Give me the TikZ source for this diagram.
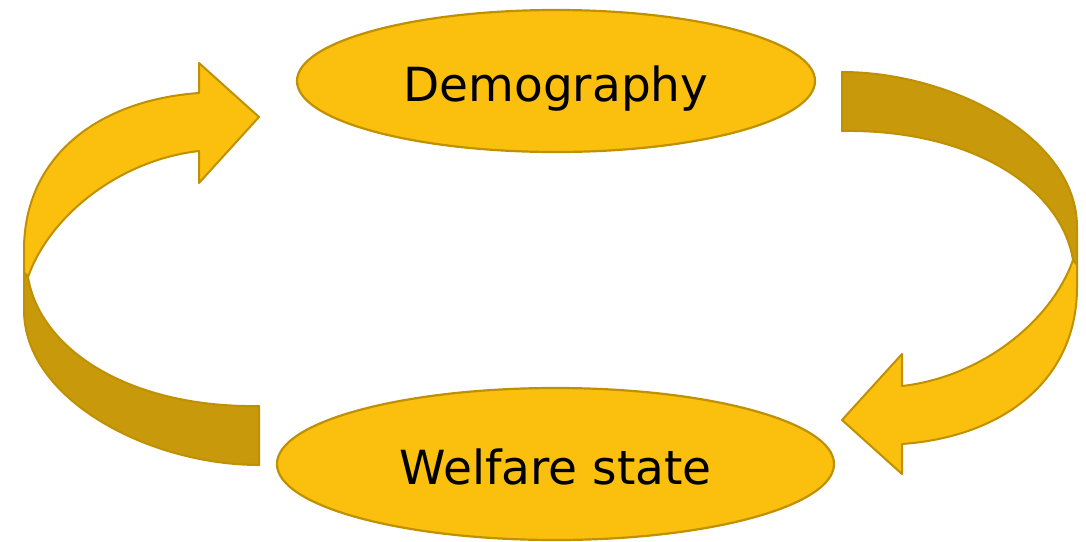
\documentclass[tikz,border=0pt]{standalone}
\usepackage{fontspec}
\setmainfont{DejaVu Sans}
\usepackage{tikz}
\usetikzlibrary{shapes.geometric, positioning}
\definecolor{goldLight}{RGB}{251,191,14}
\definecolor{goldDark}{RGB}{200,153,10}
\definecolor{goldLine}{RGB}{191,144,0}
\tikzstyle{bubble} = [ellipse, inner sep=0pt, text height=20pt, text depth=0pt, fill=goldLight, draw=goldLine, line width=1.1pt, font=\fontsize{23.5}{28}\selectfont]
\tikzstyle{lightBand} = [fill=goldLight, draw=goldLine, line width=1pt, line join=round]
\tikzstyle{darkBand} = [fill=goldDark, draw=goldLine, line width=1pt, line join=round]
% one curved ribbon arrow, drawn in pixel coordinates
\newcommand{\loopArrow}{%
  \draw [darkBand] (28,277) .. controls (40,350) and (130,408) .. (259,406)
        -- (259,465) .. controls (150,465) and (24,400) .. (24,310) -- (24,272) -- cycle;
  \draw [lightBand] (199,93) .. controls (100,100) and (24,155) .. (24,250)
        -- (24,272) -- (28,277) .. controls (50,215) and (120,160) .. (199,151)
        -- (199,183) -- (259,117) -- (199,63) -- cycle;
}
\begin{document}
\begin{tikzpicture}[x=0.5pt, y=-0.5pt]
  \useasboundingbox (0,0) rectangle (1086,541);
  \node (demo) [bubble, minimum width=259pt, minimum height=71pt] at (556,81) {Demography};
  \node (welfare) [bubble, minimum width=278.5pt, minimum height=76pt] at (555.5,464) {Welfare state};
  \loopArrow
  \begin{scope}[rotate around={180:(550.5,268.5)}]
    \loopArrow
  \end{scope}
\end{tikzpicture}
\end{document}
